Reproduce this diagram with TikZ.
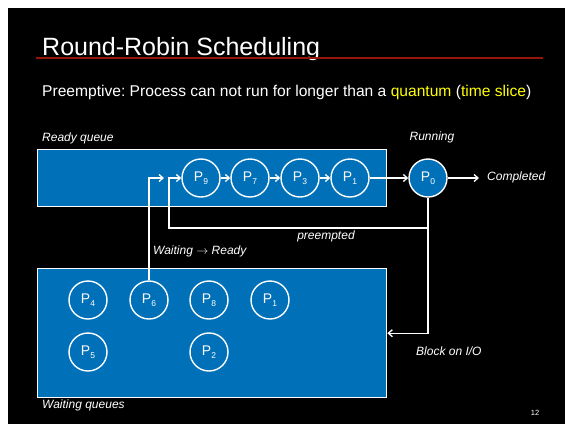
\documentclass[tikz,border=0pt]{standalone}
\usepackage{fontspec}
\setmainfont{Liberation Sans}
\usetikzlibrary{arrows.meta}
\frenchspacing

\definecolor{qblue}{RGB}{0,112,184}
\definecolor{slidered}{RGB}{150,22,10}
\definecolor{hilite}{RGB}{255,255,0}

\newcommand{\pname}[1]{P\raisebox{-2.5pt}{\fontsize{8.5}{9}\selectfont #1}}

\begin{document}
\begin{tikzpicture}[x=1pt,y=-1pt,
    proc/.style={circle, draw=white, line width=1.4pt, fill=qblue, minimum size=38pt,
        inner sep=0pt, text=white, font=\fontsize{14}{14}\selectfont},
    queue/.style={rectangle, draw=white, line width=1.4pt, fill=qblue, anchor=north west},
    flow/.style={white, line width=1.3pt, -{Straight Barb[length=4pt,width=7pt]}},
    lbl/.style={text=white, font=\fontsize{12}{12}\selectfont\itshape, inner sep=0pt}]
    % slide background
    \fill[white] (0,0) rectangle (565,424);
    \fill[black] (8,8) rectangle (565,424);

    % heading
    \node[anchor=base west, inner sep=0pt, text=white, font=\fontsize{25}{25}\selectfont] (title) at (42,55) {Round-Robin Scheduling};
    \draw[slidered, line width=2pt] (36,58) -- (543,58);
    \node[anchor=base west, inner sep=0pt, text=white, font=\fontsize{15.6}{16}\selectfont] (sub) at (42,96)
        {Preemptive: Process can not run for longer than a \textcolor{hilite}{quantum} (\textcolor{hilite}{time slice})};

    % the two queues
    \node[queue, minimum width=349pt, minimum height=57pt] (ready) at (37,149) {};
    \node[queue, minimum width=349pt, minimum height=129pt] (waiting) at (37,268) {};

    % ready queue and running process
    \node[proc] (p9) at (201,178) {\pname{9}};
    \node[proc] (p7) at (250,178) {\pname{7}};
    \node[proc] (p3) at (300,178) {\pname{3}};
    \node[proc] (p1) at (350,178) {\pname{1}};
    \node[proc] (p0) at (428,178) {\pname{0}};

    % waiting processes
    \node[proc] (w4) at (88,300) {\pname{4}};
    \node[proc] (w6) at (149,300) {\pname{6}};
    \node[proc] (w8) at (209,300) {\pname{8}};
    \node[proc] (w1) at (270,300) {\pname{1}};
    \node[proc] (w5) at (88,352) {\pname{5}};
    \node[proc] (w2) at (209,352) {\pname{2}};

    % transitions
    \foreach \a/\b in {p9/p7,p7/p3,p3/p1,p1/p0} {\draw[flow] (\a) -- (\b);}
    \coordinate (done) at (479,178);
    \draw[flow] (p0) -- (done);
    \coordinate (back) at (169,228);
    \draw[flow] (p0.south) |- (back) |- (p9.west);
    \coordinate (wake) at (164,178);
    \draw[flow] (w6.north) |- (wake);
    \draw[flow] (p0.south) |- (waiting.east);

    % labels
    \node[lbl, anchor=west] at (42,138) {Ready queue};
    \node[lbl] at (432,137) {Running};
    \node[lbl, anchor=west] at (487,177) {Completed};
    \node[lbl] at (326,236) {preempted};
    \node[lbl, anchor=west] at (153,251) {Waiting $\rightarrow$ Ready};
    \node[lbl, anchor=west] at (416,351) {Block on I/O};
    \node[lbl, anchor=west] at (42,405) {Waiting queues};
    \node[text=white, font=\fontsize{7.5}{8}\selectfont, inner sep=0pt] at (535,413) {12};
\end{tikzpicture}
\end{document}
